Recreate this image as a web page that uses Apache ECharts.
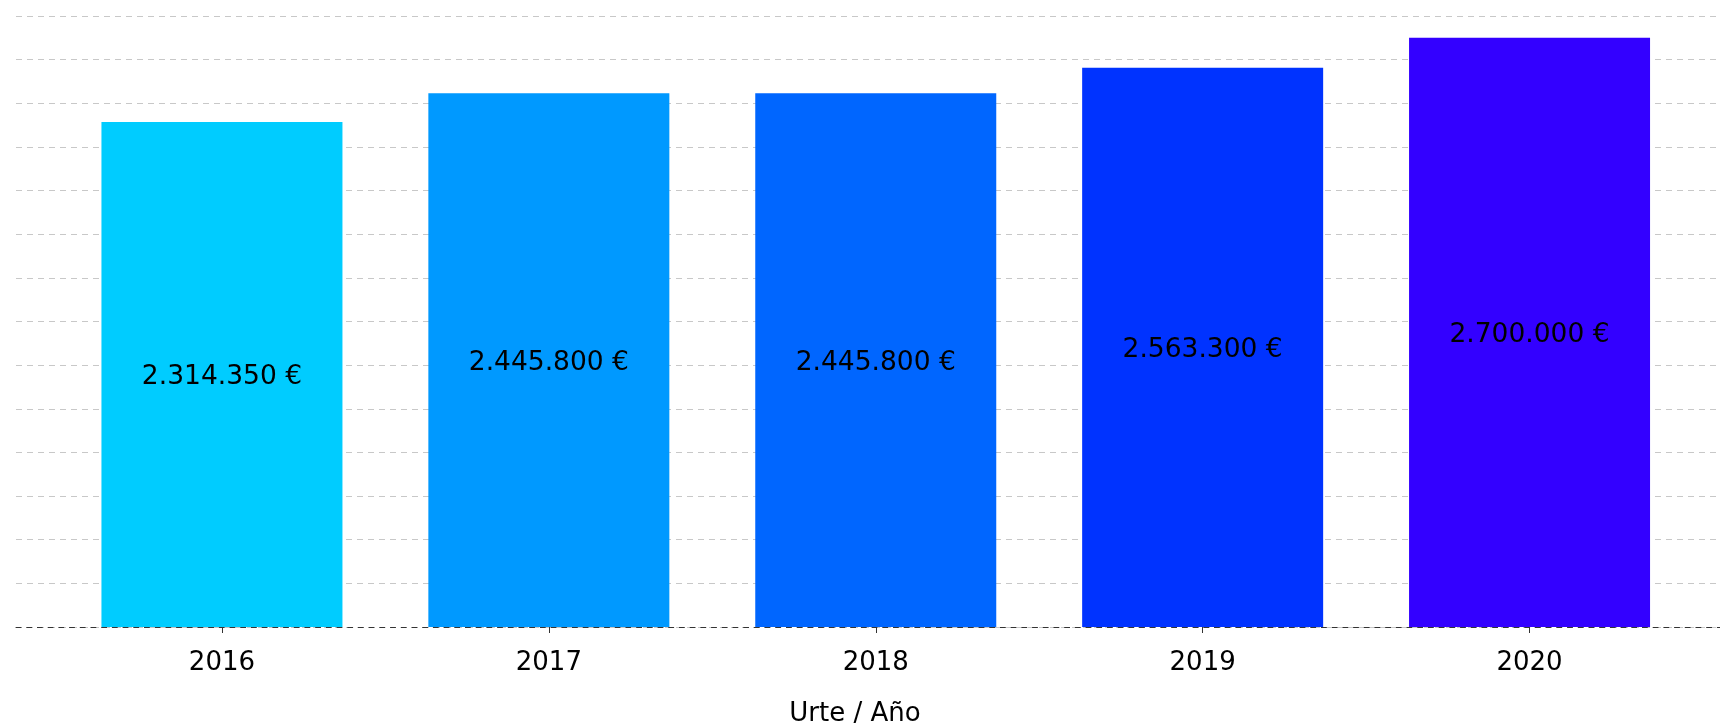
<!DOCTYPE html>
<html>
<head>
<meta charset="utf-8">
<script src="https://cdn.jsdelivr.net/npm/echarts@6/dist/echarts.min.js"></script>
<style>
  html, body { margin: 0; padding: 0; background: #fff; }
  #chart { width: 1720px; height: 727px; }
</style>
</head>
<body>
<div id="chart"></div>
<script>
(function(){
  // datos
  var years = ['2016', '2017', '2018', '2019', '2020'];
  var amounts = [2314350, 2445800, 2445800, 2563300, 2700000];
  var barColors = ['#00ccff', '#0099ff', '#0066ff', '#0033ff', '#3300ff'];
  var yMin = 0, yMax = 2800000, yStep = 200000;
  var axisTitle = 'Urte / Año';

  var font = 'DejaVu Sans';

  function euro(v) {
    return String(v).replace(/\B(?=(\d{3})+(?!\d))/g, '.') + ' €';
  }

  var myChart = echarts.init(document.getElementById('chart'));
  var option = {
    animation: false,
    textStyle: { fontFamily: font },
    grid: [
      // rejilla de fondo, todo el ancho
      { left: 16, right: 0, top: 16, bottom: 100 },
      // barras
      { left: 58.5, right: 27, top: 16, bottom: 100 }
    ],
    xAxis: [
      {
        gridIndex: 0,
        type: 'value',
        min: 0, max: 1,
        axisLabel: { show: false },
        axisTick: { show: false },
        splitLine: { show: false },
        axisLine: {
          show: true,
          lineStyle: { color: '#333', width: 1, type: [5, 5.7] }
        }
      },
      {
        gridIndex: 1,
        type: 'category',
        data: years,
        axisLine: { show: false },
        axisTick: {
          show: true,
          alignWithLabel: true,
          length: 6,
          lineStyle: { color: '#333' }
        },
        axisLabel: {
          color: '#000',
          fontSize: 26,
          fontFamily: font,
          margin: 23
        }
      }
    ],
    yAxis: [
      {
        gridIndex: 0,
        type: 'value',
        min: yMin, max: yMax, interval: yStep,
        axisLabel: { show: false },
        axisTick: { show: false },
        axisLine: { show: false },
        splitLine: {
          show: true,
          showMinLine: true,
          showMaxLine: true,
          lineStyle: { color: '#c8c8c8', width: 1, type: [6, 5] }
        }
      },
      {
        gridIndex: 1,
        type: 'value',
        min: yMin, max: yMax, interval: yStep,
        show: false,
        splitLine: { show: false }
      }
    ],
    series: [
      {
        type: 'bar',
        xAxisIndex: 1,
        yAxisIndex: 1,
        barWidth: 241,
        data: amounts.map(function (v, i) {
          return { value: v, itemStyle: { color: barColors[i] } };
        }),
        label: {
          show: true,
          position: 'inside',
          offset: [0, 3],
          color: '#000',
          fontSize: 26.5,
          fontFamily: font,
          formatter: function (p) { return euro(p.value); }
        }
      }
    ],
    graphic: [
      {
        type: 'text',
        x: 855,
        y: 714,
        style: {
          text: axisTitle,
          fill: '#000',
          font: '26px "DejaVu Sans"',
          textAlign: 'center',
          textVerticalAlign: 'middle'
        }
      }
    ]
  };

  myChart.setOption(option);
  window.addEventListener('resize', function(){
    myChart.resize();
  });
})();
</script>
</body>
</html>
